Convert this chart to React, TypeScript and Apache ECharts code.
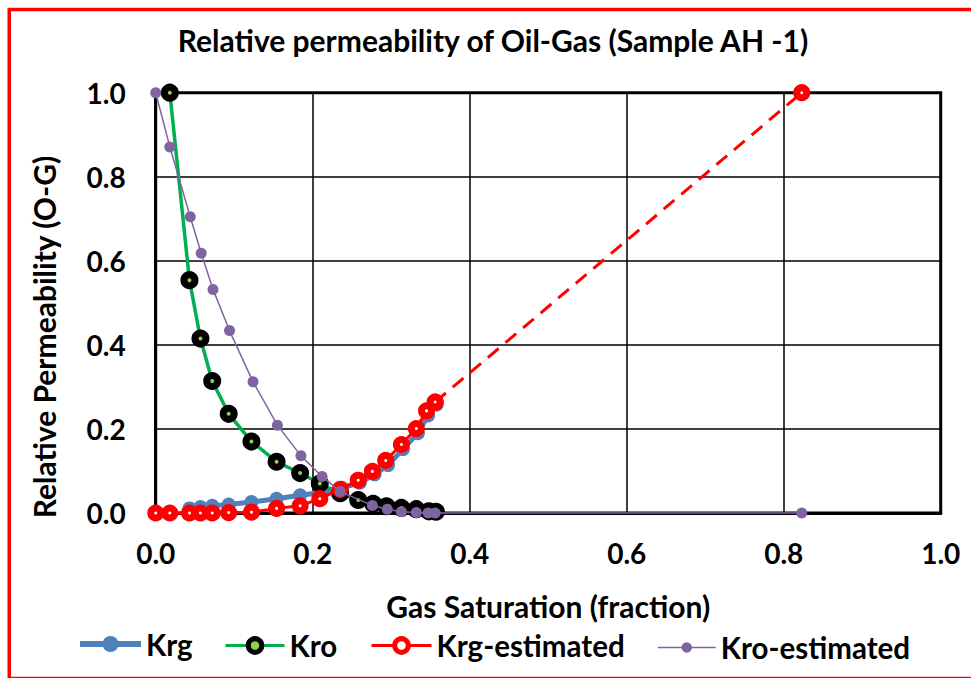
import React, { useEffect, useRef } from "react";
import * as echarts from "echarts";

const titleText = "Relative permeability of Oil-Gas (Sample AH -1)";
const xAxisName = "Gas Saturation (fraction)";
const yAxisName = "Relative Permeability (O-G)";

// Krg (measured)
const krgSg = [0.043, 0.057, 0.072, 0.093, 0.122, 0.154, 0.184, 0.211, 0.237, 0.26, 0.279, 0.296, 0.315, 0.334, 0.347, 0.358];
const krgVal = [0.011, 0.014, 0.017, 0.02, 0.026, 0.034, 0.042, 0.049, 0.06, 0.072, 0.092, 0.114, 0.152, 0.19, 0.232, 0.258];

// Kro (measured)
const kroSg = [0.018, 0.043, 0.057, 0.072, 0.093, 0.122, 0.154, 0.184, 0.209, 0.235, 0.258, 0.277, 0.294, 0.313, 0.332, 0.348, 0.357];
const kroVal = [1.0, 0.554, 0.415, 0.314, 0.236, 0.17, 0.122, 0.095, 0.07, 0.047, 0.031, 0.022, 0.016, 0.012, 0.009, 0.004, 0.003];

// Krg-estimated
const krgEstSg = [0, 0.018, 0.043, 0.057, 0.072, 0.093, 0.122, 0.154, 0.184, 0.209, 0.235, 0.258, 0.276, 0.293, 0.313, 0.332, 0.345, 0.356];
const krgEstVal = [0, 0, 0, 0, 0, 0.001, 0.002, 0.011, 0.017, 0.034, 0.056, 0.078, 0.099, 0.125, 0.163, 0.201, 0.243, 0.264];
// extrapolated end point of Krg-estimated
const krgEndSg = 0.823;
const krgEndVal = 1.0;

// Kro-estimated
const kroEstSg = [0, 0.018, 0.044, 0.058, 0.073, 0.094, 0.124, 0.155, 0.185, 0.212, 0.235, 0.276, 0.295, 0.313, 0.332, 0.347, 0.356, 0.823];
const kroEstVal = [1.0, 0.871, 0.705, 0.618, 0.532, 0.434, 0.312, 0.209, 0.136, 0.087, 0.051, 0.018, 0.009, 0.003, 0.001, 0, 0, 0];

const FONT = "Lato";

const zip = (xs: number[], ys: number[]) => xs.map((x, i) => [x, ys[i]]);

export default function App() {
  const ref = useRef<HTMLDivElement>(null);
  useEffect(() => {
    if (!ref.current) return;
    const chart = echarts.init(ref.current, null, { renderer: "svg" });
    const lastEst = krgEstSg.length - 1;
    const legendText = { fontFamily: FONT, fontWeight: "bold", fontSize: 29.5, color: "#000" };
    const mkLegend = (name: string, left: number, w: number, h: number, lineStyle: any, itemStyle: any) => ({
      data: [name],
      left,
      top: 639 - h / 2 - 5,
      itemWidth: w,
      itemHeight: h,
      itemGap: 0,
      textStyle: legendText,
      lineStyle,
      itemStyle,
    });
    const option: any = {
      animation: false,
      backgroundColor: "#fff",
      title: {
        text: titleText,
        left: 488,
        textAlign: "center",
        top: 20,
        textStyle: { fontFamily: FONT, fontWeight: "bold", fontSize: 30, color: "#000" },
      },
      legend: [
        mkLegend("Krg", 72, 61, 20, { width: 6, color: "#4F81BD" }, { color: "#4F81BD", borderWidth: 0 }),
        mkLegend("Kro", 219, 59, 17, { width: 3, color: "#00B050" }, { color: "#92D050", borderColor: "#000", borderWidth: 5 }),
        mkLegend("Krg-estimated", 365, 60, 17, { width: 3, color: "#FF0000" }, { color: "#fff", borderColor: "#FF0000", borderWidth: 5 }),
        mkLegend("Kro-estimated", 652, 58, 13, { width: 1.5, color: "#8064A2" }, { color: "#8064A2", borderWidth: 0 }),
      ],
      grid: { left: 155.7, top: 92.7, width: 785, height: 420.3, show: true, borderColor: "#000", borderWidth: 3, backgroundColor: "transparent" },
      xAxis: {
        type: "value",
        min: 0,
        max: 1,
        interval: 0.2,
        name: xAxisName,
        nameLocation: "middle",
        nameGap: 78,
        nameTextStyle: { fontFamily: FONT, fontWeight: "bold", fontSize: 30, color: "#000" },
        axisLine: { lineStyle: { color: "#000", width: 3 } },
        axisTick: { show: false },
        axisLabel: { formatter: (v: number) => v.toFixed(1), margin: 26, fontFamily: FONT, fontWeight: "bold", fontSize: 28, color: "#000" },
        splitLine: { lineStyle: { color: "#000", width: 1.5 } },
      },
      yAxis: {
        type: "value",
        min: 0,
        max: 1,
        interval: 0.2,
        axisLine: { show: true, lineStyle: { color: "#000", width: 3 } },
        axisTick: { show: false },
        axisLabel: { formatter: (v: number) => v.toFixed(1), margin: 30, fontFamily: FONT, fontWeight: "bold", fontSize: 28, color: "#000" },
        splitLine: { lineStyle: { color: "#000", width: 1.5 } },
      },
      graphic: [
        {
          type: "text",
          x: 44,
          y: 337,
          rotation: Math.PI / 2,
          style: {
            text: yAxisName,
            fontFamily: FONT,
            fontWeight: "bold",
            fontSize: 30,
            fill: "#000",
            align: "center",
            verticalAlign: "middle",
          },
        },
        {
          type: "rect",
          silent: true,
          shape: { x: 9.25, y: 9.5, width: 1000, height: 669 },
          style: { fill: "none", stroke: "#FF0000", lineWidth: 3.5 },
          z: 100,
        },
      ],
      series: [
        {
          name: "Krg",
          type: "line",
          data: zip(krgSg, krgVal),
          clip: false,
          symbol: "circle",
          symbolSize: 14,
          lineStyle: { color: "#4F81BD", width: 5 },
          itemStyle: { color: "#4F81BD" },
          z: 2,
        },
        {
          name: "Kro",
          type: "line",
          data: zip(kroSg, kroVal),
          clip: false,
          symbol: "circle",
          symbolSize: 11,
          lineStyle: { color: "#00B050", width: 3.5 },
          itemStyle: { color: "#92D050", borderColor: "#000", borderWidth: 7 },
          z: 3,
        },
        {
          name: "Krg-estimated-ext",
          type: "line",
          data: [
            [krgEstSg[lastEst], krgEstVal[lastEst]],
            [krgEndSg, krgEndVal],
          ],
          clip: false,
          symbol: "circle",
          symbolSize: 10,
          showSymbol: true,
          lineStyle: { color: "#FF0000", width: 3, type: [14, 9] },
          itemStyle: { color: "#fff", borderColor: "#FF0000", borderWidth: 7 },
          z: 4,
        },
        {
          name: "Krg-estimated",
          type: "line",
          data: zip(krgEstSg, krgEstVal),
          clip: false,
          symbol: "circle",
          symbolSize: 10,
          lineStyle: { color: "#FF0000", width: 3 },
          itemStyle: { color: "#fff", borderColor: "#FF0000", borderWidth: 7 },
          z: 4,
        },
        {
          name: "Kro-estimated",
          type: "line",
          data: zip(kroEstSg, kroEstVal),
          clip: false,
          symbol: "circle",
          symbolSize: 11,
          lineStyle: { color: "#8064A2", width: 1.5 },
          itemStyle: { color: "#8064A2" },
          z: 5,
        },
      ],
    };
    chart.setOption(option);
    return () => chart.dispose();
  }, []);
  return <div ref={ref} style={{ position: "fixed", left: 0, top: 0, width: 971, height: 678 }} />;
}
